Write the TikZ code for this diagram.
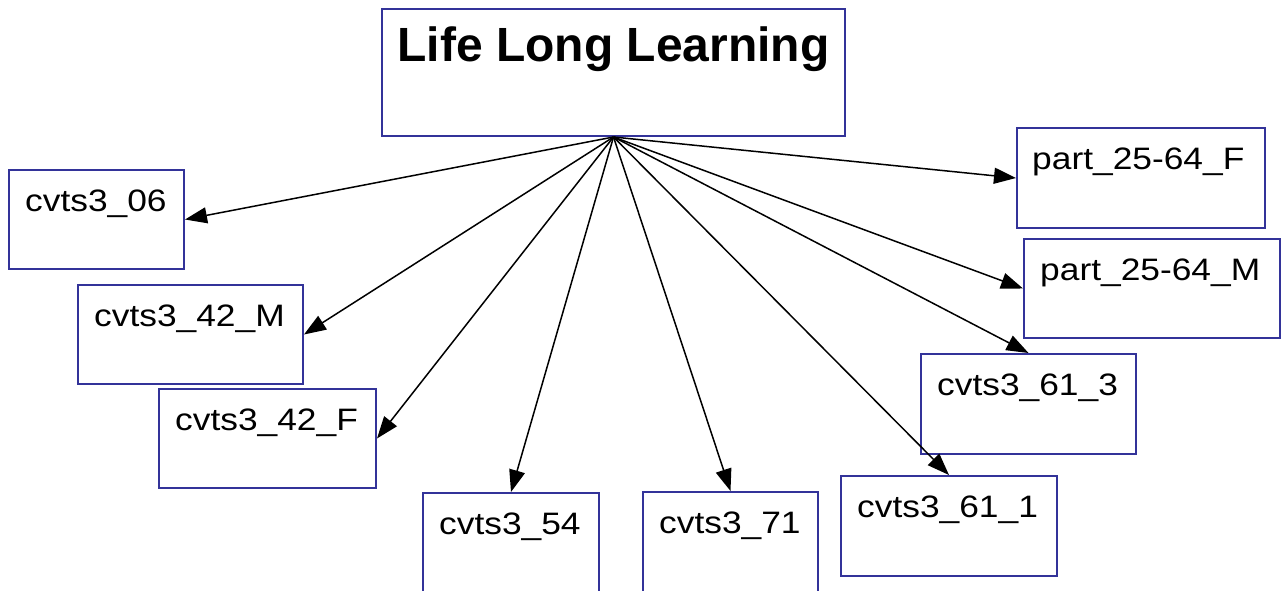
\documentclass[tikz,border=0pt]{standalone}
\usepackage{fontspec}
\setmainfont{Liberation Sans}
\usetikzlibrary{arrows.meta}
\definecolor{boxblue}{RGB}{51,51,153}
\tikzset{
  box/.style={draw=boxblue, line width=2pt, fill=white, inner sep=0pt, rectangle},
  lbl/.style={anchor=base west, inner sep=0pt, font=\fontsize{31}{31}\selectfont},
  ttl/.style={anchor=base, inner sep=0pt, font=\fontsize{48}{48}\selectfont\bfseries},
  conn/.style={line width=1.5pt, arrows={-Triangle[length=22pt,width=16pt]}}
}
\newcommand{\wide}[1]{\scalebox{1.14}[1]{#1}}
\begin{document}
\begin{tikzpicture}[x=1pt,y=-1pt]
\useasboundingbox (0,0) rectangle (1285,590);
\clip (0,0) rectangle (1285,590);
% boxes: center x, center y, width, height
\node[box, minimum width=463pt, minimum height=127pt] (title) at (613.5,72.5) {};
\node[box, minimum width=175pt, minimum height=99pt] (c06) at (96.5,219.5) {};
\node[box, minimum width=225pt, minimum height=99pt] (c42M) at (190.5,334.5) {};
\node[box, minimum width=217pt, minimum height=99pt] (c42F) at (267.5,438.5) {};
\node[box, minimum width=176pt, minimum height=107pt] (c54) at (511,546.5) {};
\node[box, minimum width=175pt, minimum height=108pt] (c71) at (730.5,546) {};
\node[box, minimum width=216pt, minimum height=100pt] (c611) at (949,526) {};
\node[box, minimum width=215pt, minimum height=100pt] (c613) at (1028.5,404) {};
\node[box, minimum width=248pt, minimum height=100pt] (pF) at (1141,178) {};
\node[box, minimum width=256pt, minimum height=99pt] (pM) at (1152,288.5) {};
% texts
\node[ttl] (ttitle) at ([yshift=-53pt]title.north) {Life Long Learning};
\node[lbl] (t06) at ([shift={(17,42)}]c06.north west) {\wide{cvts3\_06}};
\node[lbl] (t42M) at ([shift={(17,42)}]c42M.north west) {\wide{cvts3\_42\_M}};
\node[lbl] (t42F) at ([shift={(17,42)}]c42F.north west) {\wide{cvts3\_42\_F}};
\node[lbl] (t54) at ([shift={(17,42)}]c54.north west) {\wide{cvts3\_54}};
\node[lbl] (t71) at ([shift={(17,42)}]c71.north west) {\wide{cvts3\_71}};
\node[lbl] (t611) at ([shift={(17,42)}]c611.north west) {\wide{cvts3\_61\_1}};
\node[lbl] (t613) at ([shift={(17,42)}]c613.north west) {\wide{cvts3\_61\_3}};
\node[lbl] (tpF) at ([shift={(16,42)}]pF.north west) {\wide{part\_25-64\_F}};
\node[lbl] (tpM) at ([shift={(17,42)}]pM.north west) {\wide{part\_25-64\_M}};
% connectors
\draw[conn] (title.south) -- (c06.east);
\draw[conn] (title.south) -- (c42M.east);
\draw[conn] (title.south) -- (c42F.east);
\draw[conn] (title.south) -- (c54.north);
\draw[conn] (title.south) -- (c71.north);
\draw[conn] (title.south) -- (c611.north);
\draw[conn] (title.south) -- (c613.north);
\draw[conn] (title.south) -- (pM.west);
\draw[conn] (title.south) -- (pF.west);
\end{tikzpicture}
\end{document}
